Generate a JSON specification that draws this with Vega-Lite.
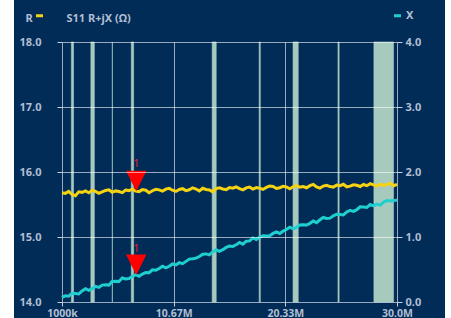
{
  "$schema": "https://vega.github.io/schema/vega-lite/v6.json",
  "width": 335,
  "height": 260,
  "autosize": {"type": "none"},
  "padding": {"left": 62, "top": 42, "right": 54, "bottom": 16},
  "background": "white",
  "config": {
    "view": {"fill": "#022c58", "stroke": "#022c58", "strokeWidth": 96},
    "font": "Noto Sans",
    "axis": {
      "labelColor": "#b0bfd2",
      "labelFont": "Noto Sans",
      "labelFontSize": 11,
      "labelFontWeight": "bold",
      "domain": false,
      "tickColor": "#c8d2de",
      "gridColor": "#ffffff",
      "gridOpacity": 0.6,
      "titleColor": "#b0bfd2",
      "titleFont": "Noto Sans",
      "titleFontSize": 11,
      "titleFontWeight": "bold"
    }
  },
  "datasets": {
    "bands": [
      {"f1": 1.81, "f2": 2.0},
      {"f1": 3.5, "f2": 3.8},
      {"f1": 5.3515, "f2": 5.3665},
      {"f1": 7.0, "f2": 7.2},
      {"f1": 14.0, "f2": 14.35},
      {"f1": 18.068, "f2": 18.168},
      {"f1": 21.0, "f2": 21.45},
      {"f1": 24.89, "f2": 24.99},
      {"f1": 28.0, "f2": 29.7}
    ],
    "markers": [
      {"f": 7.43, "r": 15.705, "x": 0.415, "label": "1"}
    ],
    "trace": [
      {"f": 1.0, "r": 15.680, "x": 0.070},
      {"f": 1.29, "r": 15.671, "x": 0.095},
      {"f": 1.58, "r": 15.702, "x": 0.090},
      {"f": 1.87, "r": 15.654, "x": 0.135},
      {"f": 2.16, "r": 15.635, "x": 0.130},
      {"f": 2.45, "r": 15.696, "x": 0.125},
      {"f": 2.74, "r": 15.687, "x": 0.170},
      {"f": 3.03, "r": 15.708, "x": 0.205},
      {"f": 3.32, "r": 15.680, "x": 0.180},
      {"f": 3.61, "r": 15.721, "x": 0.205},
      {"f": 3.9, "r": 15.702, "x": 0.240},
      {"f": 4.19, "r": 15.673, "x": 0.225},
      {"f": 4.48, "r": 15.694, "x": 0.260},
      {"f": 4.77, "r": 15.716, "x": 0.265},
      {"f": 5.06, "r": 15.727, "x": 0.260},
      {"f": 5.35, "r": 15.688, "x": 0.315},
      {"f": 5.64, "r": 15.709, "x": 0.320},
      {"f": 5.93, "r": 15.700, "x": 0.315},
      {"f": 6.22, "r": 15.682, "x": 0.370},
      {"f": 6.51, "r": 15.723, "x": 0.355},
      {"f": 6.8, "r": 15.714, "x": 0.360},
      {"f": 7.09, "r": 15.735, "x": 0.395},
      {"f": 7.38, "r": 15.706, "x": 0.420},
      {"f": 7.67, "r": 15.698, "x": 0.395},
      {"f": 7.96, "r": 15.729, "x": 0.430},
      {"f": 8.25, "r": 15.720, "x": 0.455},
      {"f": 8.54, "r": 15.681, "x": 0.450},
      {"f": 8.83, "r": 15.712, "x": 0.495},
      {"f": 9.12, "r": 15.734, "x": 0.490},
      {"f": 9.41, "r": 15.725, "x": 0.515},
      {"f": 9.7, "r": 15.706, "x": 0.550},
      {"f": 9.99, "r": 15.737, "x": 0.525},
      {"f": 10.28, "r": 15.748, "x": 0.550},
      {"f": 10.57, "r": 15.720, "x": 0.585},
      {"f": 10.86, "r": 15.701, "x": 0.570},
      {"f": 11.15, "r": 15.732, "x": 0.605},
      {"f": 11.44, "r": 15.743, "x": 0.590},
      {"f": 11.73, "r": 15.714, "x": 0.625},
      {"f": 12.02, "r": 15.726, "x": 0.660},
      {"f": 12.31, "r": 15.757, "x": 0.665},
      {"f": 12.6, "r": 15.738, "x": 0.675},
      {"f": 12.89, "r": 15.709, "x": 0.700},
      {"f": 13.18, "r": 15.750, "x": 0.735},
      {"f": 13.47, "r": 15.732, "x": 0.740},
      {"f": 13.76, "r": 15.723, "x": 0.725},
      {"f": 14.05, "r": 15.694, "x": 0.770},
      {"f": 14.34, "r": 15.745, "x": 0.805},
      {"f": 14.63, "r": 15.756, "x": 0.780},
      {"f": 14.92, "r": 15.738, "x": 0.805},
      {"f": 15.21, "r": 15.729, "x": 0.840},
      {"f": 15.5, "r": 15.760, "x": 0.860},
      {"f": 15.79, "r": 15.751, "x": 0.855},
      {"f": 16.08, "r": 15.772, "x": 0.880},
      {"f": 16.37, "r": 15.744, "x": 0.915},
      {"f": 16.66, "r": 15.725, "x": 0.890},
      {"f": 16.95, "r": 15.756, "x": 0.935},
      {"f": 17.24, "r": 15.767, "x": 0.940},
      {"f": 17.53, "r": 15.738, "x": 0.985},
      {"f": 17.82, "r": 15.760, "x": 0.960},
      {"f": 18.11, "r": 15.751, "x": 0.995},
      {"f": 18.4, "r": 15.732, "x": 1.020},
      {"f": 18.69, "r": 15.763, "x": 1.015},
      {"f": 18.98, "r": 15.784, "x": 1.020},
      {"f": 19.27, "r": 15.776, "x": 1.055},
      {"f": 19.56, "r": 15.747, "x": 1.080},
      {"f": 19.85, "r": 15.758, "x": 1.055},
      {"f": 20.14, "r": 15.779, "x": 1.090},
      {"f": 20.43, "r": 15.770, "x": 1.115},
      {"f": 20.72, "r": 15.742, "x": 1.150},
      {"f": 21.01, "r": 15.773, "x": 1.125},
      {"f": 21.3, "r": 15.794, "x": 1.150},
      {"f": 21.59, "r": 15.765, "x": 1.185},
      {"f": 21.88, "r": 15.776, "x": 1.190},
      {"f": 22.17, "r": 15.758, "x": 1.185},
      {"f": 22.46, "r": 15.789, "x": 1.210},
      {"f": 22.75, "r": 15.810, "x": 1.245},
      {"f": 23.04, "r": 15.771, "x": 1.220},
      {"f": 23.33, "r": 15.752, "x": 1.265},
      {"f": 23.62, "r": 15.784, "x": 1.300},
      {"f": 23.91, "r": 15.795, "x": 1.285},
      {"f": 24.2, "r": 15.776, "x": 1.290},
      {"f": 24.49, "r": 15.767, "x": 1.325},
      {"f": 24.78, "r": 15.798, "x": 1.350},
      {"f": 25.07, "r": 15.790, "x": 1.345},
      {"f": 25.36, "r": 15.811, "x": 1.340},
      {"f": 25.65, "r": 15.772, "x": 1.385},
      {"f": 25.94, "r": 15.783, "x": 1.410},
      {"f": 26.23, "r": 15.804, "x": 1.395},
      {"f": 26.52, "r": 15.796, "x": 1.420},
      {"f": 26.81, "r": 15.777, "x": 1.465},
      {"f": 27.1, "r": 15.808, "x": 1.460},
      {"f": 27.39, "r": 15.789, "x": 1.455},
      {"f": 27.68, "r": 15.820, "x": 1.500},
      {"f": 27.97, "r": 15.802, "x": 1.480},
      {"f": 28.26, "r": 15.783, "x": 1.505},
      {"f": 28.55, "r": 15.814, "x": 1.490},
      {"f": 28.84, "r": 15.795, "x": 1.535},
      {"f": 29.13, "r": 15.806, "x": 1.560},
      {"f": 29.42, "r": 15.828, "x": 1.555},
      {"f": 29.71, "r": 15.789, "x": 1.560},
      {"f": 30.0, "r": 15.810, "x": 1.570}
    ]
  },
  "layer": [
    {
      "data": {"name": "bands"},
      "mark": {"type": "rect", "color": "#a7cabf", "stroke": "#a7cabf", "strokeWidth": 0.6},
      "encoding": {
        "x": {
          "field": "f1",
          "type": "quantitative",
          "scale": {"domain": [1, 30], "nice": false, "zero": false},
          "axis": {
            "title": null,
            "values": [1, 10.6667, 20.3333, 30],
            "labelExpr": "datum.value < 2 ? '1000k' : (datum.value > 29 ? '30.0M' : format(datum.value, '.2f') + 'M')",
            "grid": true,
            "tickSize": 4,
            "labelPadding": 2,
            "labelFlush": false,
            "labelOverlap": false,
            "labelFontSize": 10.5
          }
        },
        "x2": {"field": "f2"}
      }
    },
    {
      "layer": [
        {
          "data": {"name": "trace"},
          "mark": {"type": "line", "strokeWidth": 3, "interpolate": "linear"},
          "encoding": {
            "x": {"field": "f", "type": "quantitative", "title": null},
            "y": {
              "field": "r",
              "type": "quantitative",
              "scale": {"domain": [14, 18], "nice": false, "zero": false},
              "axis": {
                "orient": "left",
                "values": [14, 15, 16, 17, 18],
                "format": ".1f",
                "grid": true,
                "tickSize": 5,
                "labelPadding": 16,
                "zindex": 1,
                "title": "R",
                "titleAngle": 0,
                "titleX": -37,
                "titleY": -24,
                "titleAlign": "left",
                "titleBaseline": "middle"
              }
            },
            "color": {
              "datum": "R",
              "scale": {"domain": ["R", "X"], "range": ["#f5d313", "#1fcfd0"]},
              "legend": {
                "orient": "none",
                "legendX": -28,
                "legendY": -32,
                "direction": "horizontal",
                "title": null,
                "padding": 0,
                "symbolType": "stroke",
                "symbolSize": 49,
                "symbolStrokeWidth": 3,
                "labelExpr": "datum.label == 'R' ? '' : datum.label",
                "labelOffset": 3,
                "columnPadding": 339,
                "labelColor": "#b0bfd2",
                "labelFont": "Noto Sans",
                "labelFontSize": 11,
                "labelFontWeight": "bold"
              }
            }
          }
        },
        {
          "data": {"name": "markers"},
          "mark": {"type": "point", "shape": "M-1,-2L1,-2L0,0Z", "filled": true, "color": "#ff0000", "opacity": 1, "size": 420},
          "encoding": {
            "x": {"field": "f", "type": "quantitative"},
            "y": {"field": "r", "type": "quantitative"}
          }
        },
        {
          "data": {"name": "markers"},
          "mark": {"type": "text", "color": "#ff2020", "fontSize": 10, "yOffset": -27, "baseline": "middle"},
          "encoding": {
            "x": {"field": "f", "type": "quantitative"},
            "y": {"field": "r", "type": "quantitative"},
            "text": {"field": "label"}
          }
        }
      ]
    },
    {
      "layer": [
        {
          "data": {"name": "trace"},
          "mark": {"type": "line", "strokeWidth": 3, "interpolate": "linear"},
          "encoding": {
            "x": {"field": "f", "type": "quantitative"},
            "y": {
              "field": "x",
              "type": "quantitative",
              "scale": {"domain": [0, 4], "nice": false, "zero": false},
              "axis": {
                "orient": "right",
                "values": [0, 1, 2, 3, 4],
                "format": ".1f",
                "grid": false,
                "tickSize": 5,
                "labelPadding": 3,
                "title": "S11 R+jX (Ω)",
                "titleAngle": 0,
                "titleX": -331,
                "titleY": -24,
                "titleAlign": "left",
                "titleBaseline": "middle"
              }
            },
            "color": {"datum": "X"}
          }
        },
        {
          "data": {"name": "markers"},
          "mark": {"type": "point", "shape": "M-1,-2L1,-2L0,0Z", "filled": true, "color": "#ff0000", "opacity": 1, "size": 420},
          "encoding": {
            "x": {"field": "f", "type": "quantitative"},
            "y": {"field": "x", "type": "quantitative"}
          }
        },
        {
          "data": {"name": "markers"},
          "mark": {"type": "text", "color": "#ff2020", "fontSize": 10, "yOffset": -26, "baseline": "middle"},
          "encoding": {
            "x": {"field": "f", "type": "quantitative"},
            "y": {"field": "x", "type": "quantitative"},
            "text": {"field": "label"}
          }
        }
      ]
    }
  ],
  "resolve": {"scale": {"y": "independent"}}
}
